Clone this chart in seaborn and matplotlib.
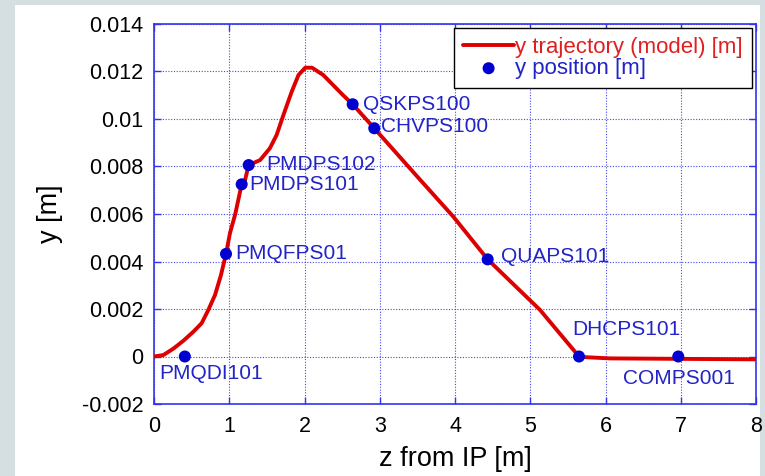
import matplotlib
matplotlib.use("Agg")
import matplotlib.pyplot as plt
from matplotlib.patches import Rectangle
import seaborn as sns
import pandas as pd

# ---- data ----
z_traj = [0.0, 0.124, 0.257, 0.389, 0.522, 0.633, 0.722, 0.811, 0.890, 0.957,
          1.01, 1.08, 1.165, 1.21, 1.258, 1.41, 1.54, 1.63, 1.72, 1.83, 1.92,
          2.01, 2.10, 2.25, 2.38, 2.51, 2.64, 2.927, 3.50, 3.977, 4.434, 5.13,
          5.648, 5.74, 6.06, 8.0]
y_traj = [0.0, 0.00006, 0.00033, 0.00066, 0.00104, 0.0014, 0.00196, 0.00259,
          0.00343, 0.00432, 0.0052, 0.0060, 0.00725, 0.00743, 0.00806, 0.00827,
          0.00877, 0.00933, 0.01017, 0.01115, 0.01185, 0.01216, 0.01216, 0.01185,
          0.01143, 0.01101, 0.01062, 0.00961, 0.00757, 0.00589, 0.00409, 0.00196,
          0.0, -0.00003, -0.00008, -0.00012]

names = ["PMQDI101", "PMQFPS01", "PMDPS101", "PMDPS102", "QSKPS100",
         "CHVPS100", "QUAPS101", "DHCPS101", "COMPS001"]
z_pos = [0.41, 0.957, 1.165, 1.258, 2.64, 2.927, 4.434, 5.648, 6.967]
y_pos = [0.0, 0.00432, 0.00725, 0.00806, 0.01062, 0.00961, 0.00409, 0.0, 0.0]

xticks = [0, 1, 2, 3, 4, 5, 6, 7, 8]
yticks = [-0.002, 0.0, 0.002, 0.004, 0.006, 0.008, 0.010, 0.012, 0.014]
ytick_labels = ["-0.002", "0", "0.002", "0.004", "0.006", "0.008", "0.01", "0.012", "0.014"]

# label offsets in pixels (dx, dy) relative to point
label_offsets = {
    "PMQDI101": (-26, -17),
    "PMQFPS01": (9, 0),
    "PMDPS101": (8, 0),
    "PMDPS102": (18, 1),
    "QSKPS100": (10, 0),
    "CHVPS100": (7, 2),
    "QUAPS101": (13, 3),
    "DHCPS101": (-7, 27),
    "COMPS001": (-55, -22),
}

sns.set_style("white")
plt.rcParams["font.family"] = ["Liberation Sans", "DejaVu Sans"]

BLUE = "#0000d0"
TXT_BLUE = "#2323c8"
RED = "#dd0000"
AX_BLUE = "#3333ee"

fig = plt.figure(figsize=(7.65, 4.76), dpi=100)
fig.patch.set_facecolor("#d5dfe1")
fig.patches.append(Rectangle((15 / 765, 0), 745 / 765, 471 / 476,
                             transform=fig.transFigure, facecolor="white",
                             edgecolor="none", zorder=-10))

ax = fig.add_axes([154 / 765, 72 / 476, 602 / 765, 380 / 476])
ax.set_zorder(5)
ax.set_facecolor("white")

traj = pd.DataFrame({"z": z_traj, "y": y_traj})
pos = pd.DataFrame({"z": z_pos, "y": y_pos, "name": names})

sns.lineplot(data=traj, x="z", y="y", ax=ax, color=RED, lw=2.8,
             estimator=None, sort=False, label="y trajectory (model) [m]", zorder=3)
sns.scatterplot(data=pos, x="z", y="y", ax=ax, color=BLUE, s=75,
                edgecolor="none", label="y position [m]", zorder=4)

for n, zx, yy in zip(names, z_pos, y_pos):
    dx, dy = label_offsets[n]
    ax.annotate(n, (zx, yy), xytext=(dx, dy), textcoords="offset pixels",
                ha="left", va="center", color=TXT_BLUE, fontsize=15, zorder=5)

ax.set_xlim(0, 8)
ax.set_ylim(-0.002, 0.014)
ax.set_xticks(xticks)
ax.set_xticklabels([str(t) for t in xticks])
ax.set_yticks(yticks)
ax.set_yticklabels(ytick_labels)
ax.tick_params(direction="in", length=5, width=1, color=AX_BLUE,
               labelsize=15.5, labelcolor="black", top=True, right=True,
               bottom=True, left=True)
ax.tick_params(axis="x", pad=9)
ax.tick_params(axis="y", pad=7.5)
for s in ax.spines.values():
    s.set_color(AX_BLUE)
    s.set_linewidth(1.2)
    s.set_visible(True)
ax.grid(True, color=AX_BLUE, linestyle=(0, (1, 1.5)), linewidth=0.8, alpha=0.9)
ax.set_axisbelow(True)

ax.set_xlabel("z from IP [m]", fontsize=19.5, color="black", labelpad=6)
ax.set_ylabel("y [m]", fontsize=19.5, color="black", labelpad=14)

leg = ax.legend(loc="upper right", bbox_to_anchor=(0.993, 0.989),
                borderaxespad=0, fontsize=16, frameon=True, fancybox=False,
                edgecolor="black", framealpha=1, handlelength=2.3,
                handletextpad=0.05, labelspacing=0.0, borderpad=0.4)
leg.get_frame().set_linewidth(1.0)
leg.get_texts()[0].set_color("#e02020")
leg.get_texts()[1].set_color(TXT_BLUE)

fig.savefig("out.png", dpi=100, facecolor=fig.get_facecolor())
